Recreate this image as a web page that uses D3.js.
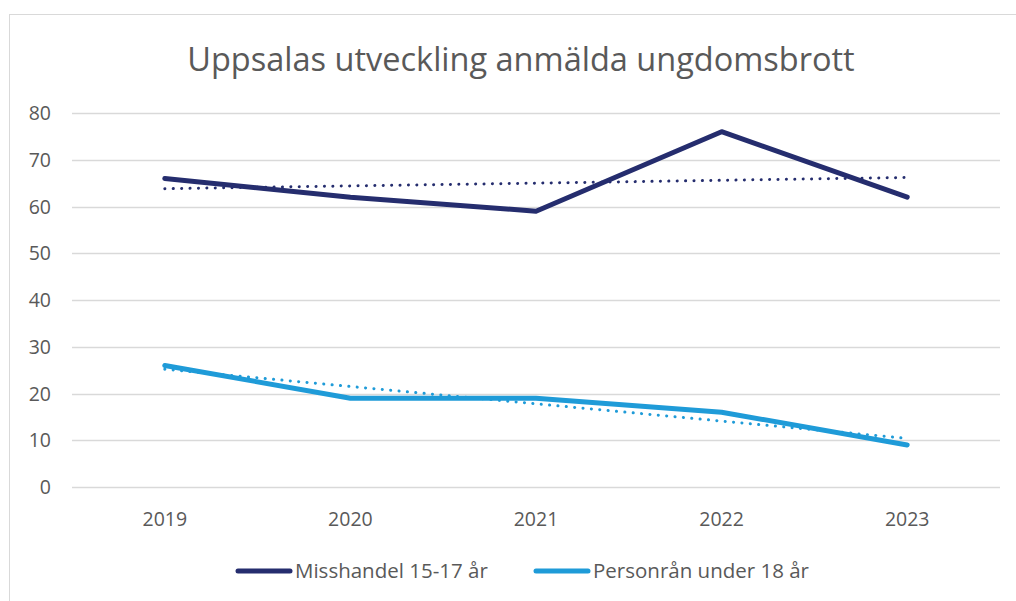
<!DOCTYPE html>
<html>
<head>
<meta charset="utf-8">
<script src="https://cdn.jsdelivr.net/npm/d3@7"></script>
<style>
  body { margin: 0; background: #fff; }
  text { font-family: "Open Sans", "Noto Sans", sans-serif; fill: #595959; }
</style>
</head>
<body>
<div id="chart"></div>
<script>
const w = 1016;
const h = 601;

const years = ["2019", "2020", "2021", "2022", "2023"];
const misshandel = [66, 62, 59, 76, 62];
const personran = [26, 19, 19, 16, 9];
const yTicks = [0, 10, 20, 30, 40, 50, 60, 70, 80];

const series = [
    {name: "Misshandel 15-17 år", values: misshandel, color: "#252d6e"},
    {name: "Personrån under 18 år", values: personran, color: "#1f9bd8"}
];

const svg = d3.select("#chart").append("svg").attr("width", w).attr("height", h);

// chart border
svg.append("rect")
    .attr("x", 9.5).attr("y", 14.5)
    .attr("width", 1020).attr("height", 620)
    .style("fill", "none").style("stroke", "#d9d9d9");

const x = d3.scaleBand().domain(years).range([72, 1000]);
const y = d3.scaleLinear().domain([0, 80]).range([487, 113]);
const cx = d => x(d) + x.bandwidth() / 2;

// title
svg.append("text")
    .attr("x", 521).attr("y", 71)
    .attr("text-anchor", "middle")
    .style("font-size", "32.5px")
    .text("Uppsalas utveckling anmälda ungdomsbrott");

// grid
svg.append("g").selectAll("line")
    .data(yTicks)
    .enter().append("line")
        .attr("x1", 72).attr("x2", 1000)
        .attr("y1", d => Math.round(y(d)) + 0.5)
        .attr("y2", d => Math.round(y(d)) + 0.5)
        .style("stroke", "#d9d9d9").style("stroke-width", 1.3);

// y labels
svg.append("g").selectAll("text")
    .data(yTicks)
    .enter().append("text")
        .attr("x", 51).attr("y", d => y(d) + 7)
        .attr("text-anchor", "end")
        .style("font-size", "19.5px")
        .text(d => d);

// x labels
svg.append("g").selectAll("text")
    .data(years)
    .enter().append("text")
        .attr("x", d => cx(d)).attr("y", 526)
        .attr("text-anchor", "middle")
        .style("font-size", "19.5px")
        .text(d => d);

const line = d3.line().x((d, i) => cx(years[i])).y(d => y(d));

// linear trend (least squares, same as spreadsheet trendline)
function trend(vals) {
    const xs = vals.map((v, i) => i + 1);
    const mx = d3.mean(xs), my = d3.mean(vals);
    const slope = d3.sum(xs, (xi, i) => (xi - mx) * (vals[i] - my)) / d3.sum(xs, xi => (xi - mx) ** 2);
    return xs.map(xi => my + slope * (xi - mx));
}

series.forEach(s => {
    svg.append("path")
        .datum(trend(s.values))
        .attr("d", line)
        .style("fill", "none")
        .style("stroke", s.color)
        .style("stroke-width", 3)
        .style("stroke-linecap", "round")
        .style("stroke-dasharray", "0.1 8.3");

    svg.append("path")
        .datum(s.values)
        .attr("d", line)
        .style("fill", "none")
        .style("stroke", s.color)
        .style("stroke-width", 5)
        .style("stroke-linecap", "round")
        .style("stroke-linejoin", "round");
});

// legend
const legendX = [238, 536];
const legend = svg.append("g").selectAll("g")
    .data(series)
    .enter().append("g")
        .attr("transform", (d, i) => "translate(" + legendX[i] + ",571)");

legend.append("line")
    .attr("x1", 0).attr("x2", 52)
    .style("stroke", d => d.color)
    .style("stroke-width", 5)
    .style("stroke-linecap", "round");

legend.append("text")
    .attr("x", 57).attr("y", 7)
    .style("font-size", "20.5px")
    .text(d => d.name);
</script>
</body>
</html>
